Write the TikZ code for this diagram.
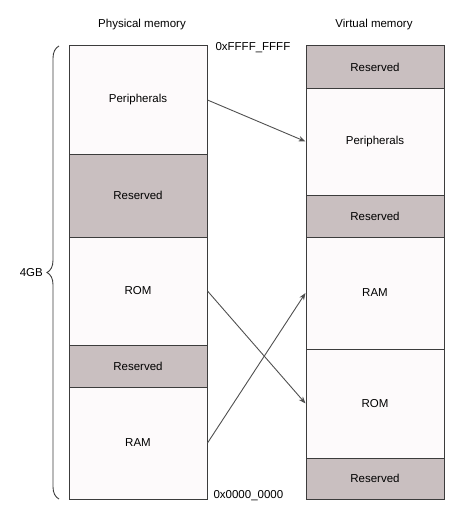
\documentclass[tikz,border=0pt]{standalone}
\usepackage{fontspec}
\setmainfont{Liberation Sans}
\usepackage{tikz}
\usetikzlibrary{arrows.meta,decorations.pathreplacing}

\begin{document}
\begin{tikzpicture}[x=1pt, y=-1pt, >=Stealth, font=\fontsize{11.5}{13}\selectfont,
  memblock/.style={draw=memline, line width=1pt, fill=memwhite, minimum width=138pt, inner sep=0pt},
  memreserved/.style={memblock, fill=memgray}]

\definecolor{memwhite}{RGB}{253, 250, 251}
\definecolor{memgray}{RGB}{201, 191, 192}
\definecolor{memline}{RGB}{60, 60, 60}
\definecolor{arrowgray}{RGB}{80, 80, 80}

\useasboundingbox (0,0) rectangle (472,519);

% Titles
\node (phystitle) at (142,25) {Physical memory};
\node (virttitle) at (374,25) {Virtual memory};

% Physical memory blocks
\node[memblock, minimum height=108pt] (physperiph) at (138,100) {Peripherals};
\node[memreserved, minimum height=83pt] (physres1) at (138,195.5) {Reserved};
\node[memblock, minimum height=108pt] (physrom) at (138,291) {ROM};
\node[memreserved, minimum height=42pt] (physres2) at (138,366) {Reserved};
\node[memblock, minimum height=112pt] (physram) at (138,443) {RAM};

% Virtual memory blocks
\node[memreserved, minimum height=42pt] (virtres1) at (375,67) {Reserved};
\node[memblock, minimum height=107pt] (virtperiph) at (375,141.5) {Peripherals};
\node[memreserved, minimum height=42pt] (virtres2) at (375,216) {Reserved};
\node[memblock, minimum height=112pt] (virtram) at (375,293) {RAM};
\node[memblock, minimum height=109pt] (virtrom) at (375,403.5) {ROM};
\node[memreserved, minimum height=41pt] (virtres3) at (375,478.5) {Reserved};

% Addresses
\node[anchor=west] (hextop) at (212,48) {0xFFFF\_FFFF};
\node[anchor=west] (hexbottom) at (210,496) {0x0000\_0000};

% 4GB brace
\coordinate (bracetop) at (59,46);
\coordinate (bracebot) at (59,499);
\draw[memline, line width=0.9pt, decorate, decoration={brace, amplitude=12pt}] (bracebot) -- (bracetop);
\node[anchor=east, inner sep=0pt] (size) at (43,273) {4GB};

% Mapping arrows
\draw[->, arrowgray, line width=0.9pt] (physperiph.east) -- (virtperiph.west);
\draw[->, arrowgray, line width=0.9pt] (physrom.east) -- (virtrom.west);
\draw[->, arrowgray, line width=0.9pt] (physram.east) -- (virtram.west);

\end{tikzpicture}
\end{document}
